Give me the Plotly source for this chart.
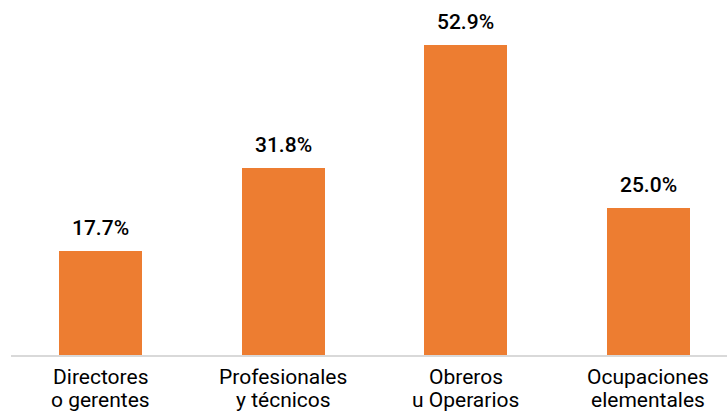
import plotly.graph_objects as go

# Category names, split into the two lines drawn under each bar
label_line1 = ["Directores", "Profesionales", "Obreros", "Ocupaciones"]
label_line2 = ["o gerentes", "y técnicos", "u Operarios", "elementales"]
values = [17.7, 31.8, 52.9, 25.0]

positions = list(range(len(values)))

fig = go.Figure(go.Bar(
    x=positions,
    y=values,
    width=0.455,
    marker=dict(color="#ED7D31", line=dict(width=0)),
    hoverinfo="skip",
))

annotations = []
# Percentage labels above each bar
for xi, v in zip(positions, values):
    annotations.append(dict(
        x=xi, y=v, xref="x", yref="y",
        text=f"{v:.1f}%", showarrow=False,
        yanchor="middle", yshift=23,
        font=dict(family="Roboto", size=21, color="#000000", weight=500),
    ))
# Two-line category labels under the baseline (tight line spacing)
for xi, l1, l2 in zip(positions, label_line1, label_line2):
    annotations.append(dict(
        x=xi, y=0, xref="x", yref="paper",
        text=l1, showarrow=False, yanchor="middle", yshift=-22,
        font=dict(family="Roboto", size=21, color="#000000"),
    ))
    annotations.append(dict(
        x=xi, y=0, xref="x", yref="paper",
        text=l2, showarrow=False, yanchor="middle", yshift=-45,
        font=dict(family="Roboto", size=21, color="#000000"),
    ))

fig.update_layout(
    width=727, height=413,
    margin=dict(l=11, r=0, t=0, b=58),
    paper_bgcolor="white", plot_bgcolor="white",
    showlegend=False,
    bargap=0,
    annotations=annotations,
    xaxis=dict(
        range=[-0.4904, 3.430],
        showticklabels=False,
        showgrid=False, zeroline=False,
        showline=True, linecolor="#D9D9D9", linewidth=2,
        ticks="",
    ),
    yaxis=dict(range=[0, 60.5], visible=False, showgrid=False, zeroline=False),
)

fig.write_html("out.html")
